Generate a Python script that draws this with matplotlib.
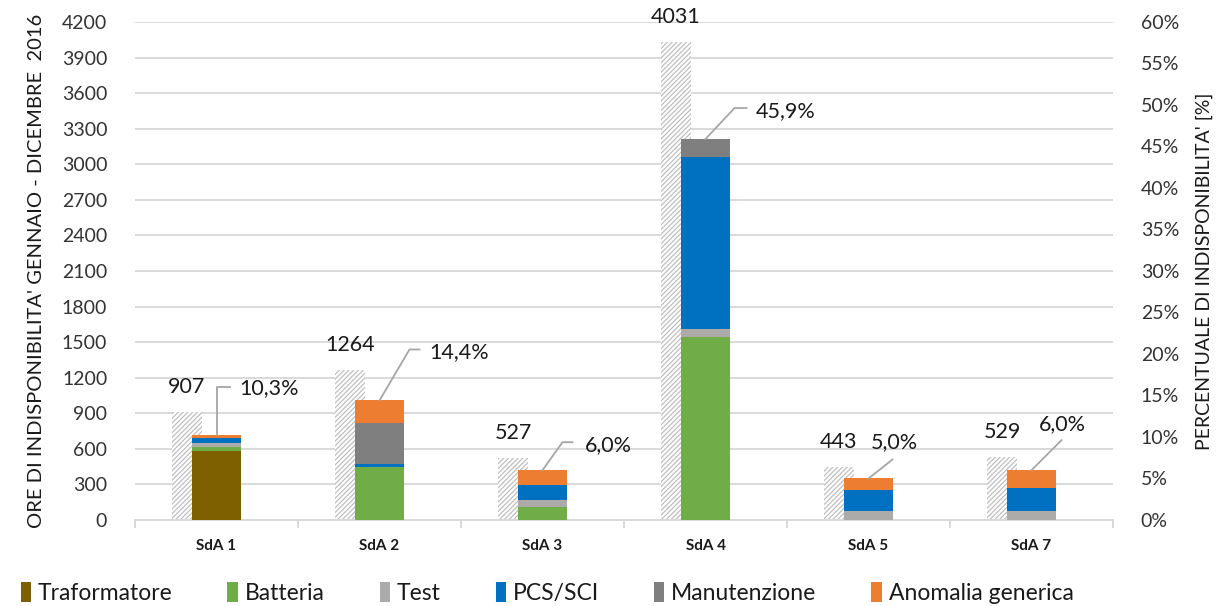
import numpy as np
import matplotlib
matplotlib.use('Agg')
import matplotlib.pyplot as plt
from matplotlib.lines import Line2D
from matplotlib.patches import Patch
from matplotlib.transforms import IdentityTransform

# ore di indisponibilita' per sito (asse sinistro)
categorie = ['SdA 1', 'SdA 2', 'SdA 3', 'SdA 4', 'SdA 5', 'SdA 7']
ore = [907, 1264, 527, 4031, 443, 529]

# ripartizione percentuale per causa (asse destro)
traformatore = [8.3, 0.0, 0.0, 0.0, 0.0, 0.0]
batteria = [0.45, 6.4, 1.6, 22.0, 0.0, 0.0]
test = [0.5, 0.0, 0.8, 1.0, 1.1, 1.1]
pcs_sci = [0.65, 0.4, 1.8, 20.7, 2.5, 2.7]
manutenzione = [0.0, 4.9, 0.0, 2.2, 0.0, 0.0]
anomalia = [0.4, 2.7, 1.8, 0.0, 1.4, 2.2]

cause = ['Traformatore', 'Batteria', 'Test', 'PCS/SCI', 'Manutenzione', 'Anomalia generica']
serie = [traformatore, batteria, test, pcs_sci, manutenzione, anomalia]
colori = ['#7F6000', '#70AD47', '#ADAAAA', '#0070C0', '#7F7F7F', '#ED7D31']

# posizione delle etichette percentuali (pixel rispetto alla cima della barra)
linee_etichette = [
    [(0, 0), (0, 48), (13, 48)],
    [(0, 0), (30, 51), (40, 51)],
    [(0, 0), (20, 28), (30, 28)],
    [(0, 0), (29, 31), (41, 31)],
    [(0, 0), (24, 19)],
    [(0, 0), (30, 30)],
]
testo_etichette = [(23, 46, 'left'), (50, 48, 'left'), (42, 25, 'left'),
                   (50, 28, 'left'), (26, 36, 'center'), (31, 46, 'center')]

plt.rcParams['font.family'] = ['Lato', 'DejaVu Sans']
plt.rcParams['hatch.linewidth'] = 0.9
plt.rcParams['hatch.color'] = '#BFBFBF'

fig = plt.figure(figsize=(12.32, 6.06), dpi=100)
ax1 = fig.add_axes([135 / 1232, 1 - 520 / 606, 978 / 1232, 498 / 606])
ax2 = ax1.twinx()

x = np.arange(len(categorie))
grigio = '#D9D9D9'

# barre tratteggiate: ore totali
ax1.bar(x - 0.181, ore, width=0.184, color='white', edgecolor='#BFBFBF',
        linewidth=0, hatch='///////', zorder=2)
for xi, v in zip(x, ore):
    ax1.annotate(str(v), (xi - 0.181, v), xytext=(0, 25), textcoords='offset pixels',
                 ha='center', va='center', fontsize=15.5, color='#1A1A1A')

ax1.set_ylim(0, 4200)
ax1.set_yticks(np.arange(0, 4201, 300))
ax1.yaxis.grid(True, color=grigio, linewidth=1.4)
ax1.set_axisbelow(True)
ax1.set_xlim(-0.5, len(categorie) - 0.5)
ax1.set_xticks(x)
ax1.set_xticklabels(categorie, fontsize=11, fontweight='bold', color='#1A1A1A')
ax1.set_xticks(np.arange(-0.5, len(categorie), 1.0), minor=True)
ax1.tick_params(axis='x', which='major', length=0, pad=14)
ax1.tick_params(axis='x', which='minor', length=6, color=grigio, width=1.4)
ax1.tick_params(axis='y', length=0, pad=20, labelsize=14, labelcolor='#333333')
ax1.set_ylabel("ORE DI INDISPONIBILITA' GENNAIO - DICEMBRE  2016", fontsize=14.5,
               color='#1A1A1A', labelpad=12)
for lato in ['top', 'left', 'right']:
    ax1.spines[lato].set_visible(False)
ax1.spines['bottom'].set_color(grigio)
ax1.spines['bottom'].set_linewidth(1.4)

# barre impilate: percentuale per causa
base = np.zeros(len(categorie))
for nome, valori, col in zip(cause, serie, colori):
    ax2.bar(x, valori, width=0.30, bottom=base, color=col, linewidth=0, label=nome, zorder=3)
    base += np.array(valori)

ax2.set_ylim(0, 60)
ax2.set_yticks(np.arange(0, 61, 5))
ax2.set_yticklabels([f'{t}%' for t in range(0, 61, 5)])
ax2.tick_params(axis='y', length=0, pad=20, labelsize=14, labelcolor='#333333')
ax2.set_ylabel("PERCENTUALE DI INDISPONIBILITA' [%]", fontsize=14, color='#1A1A1A',
               labelpad=12)
for lato in ['top', 'left', 'right', 'bottom']:
    ax2.spines[lato].set_visible(False)

# etichette percentuali con linee guida
for xi, tot, punti, (tx, ty, allinea) in zip(x, base, linee_etichette, testo_etichette):
    p = ax2.transData.transform((xi, tot))
    px = [p[0] + dx for dx, dy in punti]
    py = [p[1] + dy for dx, dy in punti]
    fig.add_artist(Line2D(px, py, transform=IdentityTransform(), color='#A6A6A6',
                          linewidth=1.3))
    testo = f'{tot:.1f}%'.replace('.', ',')
    ax2.annotate(testo, (xi, tot), xytext=(tx, ty), textcoords='offset pixels',
                 ha=allinea, va='center', fontsize=15.5, color='#1A1A1A')

maniglie = [Patch(facecolor=c, edgecolor='none') for c in colori]
fig.legend(maniglie, cause, loc='center', bbox_to_anchor=(0.444, 1 - 593 / 606), ncol=6,
           frameon=False, fontsize=16.5, handlelength=0.45, handleheight=1.0,
           handletextpad=0.3, columnspacing=2.4, labelcolor='#1A1A1A')

fig.savefig('out.png', dpi=100)
